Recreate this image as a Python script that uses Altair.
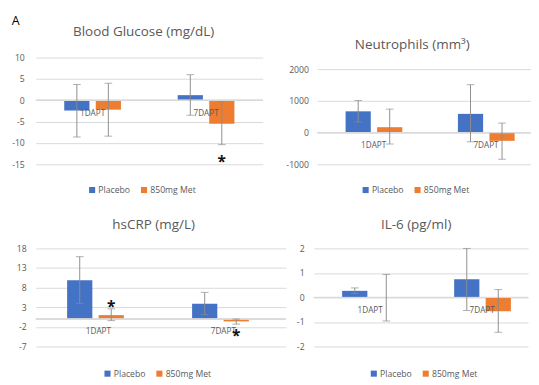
import altair as alt
import pandas as pd

FONT = "Open Sans"
GRAY_TXT = "#595959"
GRID = "#d9d9d9"
ERR = "#8c8c8c"

categories = ["1DAPT", "7DAPT"]
groups = ["Placebo", "850mg Met"]
group_colors = ["#4472C4", "#ED7D31"]

# Blood glucose (mg/dL)
bg_placebo = [-2.4, 1.2]
bg_placebo_lo = [-8.6, -3.5]
bg_placebo_hi = [3.7, 6.0]
bg_met = [-2.2, -5.5]
bg_met_lo = [-8.4, -10.4]
bg_met_hi = [4.0, -0.3]
bg_sig_cat = ["7DAPT"]
bg_sig_val = [-13.5]

# Neutrophils (mm3)
ne_placebo = [670, 590]
ne_placebo_lo = [330, -290]
ne_placebo_hi = [1010, 1510]
ne_met = [170, -260]
ne_met_lo = [-360, -840]
ne_met_hi = [740, 300]

# hsCRP (mg/L)
crp_placebo = [9.9, 3.9]
crp_placebo_lo = [4.0, 1.1]
crp_placebo_hi = [15.9, 6.8]
crp_met = [1.0, -0.6]
crp_met_lo = [-0.4, -1.3]
crp_met_hi = [2.6, 0.0]
crp_sig_cat = ["1DAPT", "7DAPT"]
crp_sig_val = [3.9, -3.5]

# IL-6 (pg/ml)
il_placebo = [0.27, 0.74]
il_placebo_lo = [0.16, -0.53]
il_placebo_hi = [0.39, 2.0]
il_met = [0.0, -0.56]
il_met_lo = [-0.96, -1.42]
il_met_hi = [0.94, 0.32]


def table(p, plo, phi, m, mlo, mhi):
    rows = []
    for i, c in enumerate(categories):
        rows.append({"cat": c, "grp": groups[0], "val": p[i], "lo": plo[i], "hi": phi[i]})
        rows.append({"cat": c, "grp": groups[1], "val": m[i], "lo": mlo[i], "hi": mhi[i]})
    return pd.DataFrame(rows)


def panel(title, df, domain, ticks, width, height, xpad, offpad, label_pad,
          legend_x, legend_y, title_dx, title_offset, sig_cat=None, sig_val=None):
    xscale = alt.Scale(**xpad)
    x = alt.X("cat:N", sort=categories, scale=xscale, axis=None)
    xo = alt.XOffset("grp:N", sort=groups, scale=alt.Scale(paddingInner=offpad, paddingOuter=0))
    yscale = alt.Scale(domain=domain, nice=False, zero=False)
    yaxis = alt.Axis(values=ticks, tickCount=20, grid=True, domain=False, ticks=False, title=None,
                     labelPadding=label_pad, gridColor=GRID, gridWidth=1,
                     labelOverlap=False, labelFlush=False, labelBound=False,
                     labelExpr="'' + datum.value",
                     labelColor=GRAY_TXT, labelFontSize=9, labelFont=FONT)
    base = alt.Chart(df)
    bars = base.mark_bar().encode(
        x=x, xOffset=xo,
        y=alt.Y("val:Q", scale=yscale, axis=yaxis),
        color=alt.Color("grp:N", sort=groups,
                        scale=alt.Scale(domain=groups, range=group_colors),
                        legend=alt.Legend(title=None, orient="none", legendX=legend_x, legendY=legend_y,
                                          direction="horizontal", symbolType="square", symbolSize=40,
                                          symbolStrokeWidth=0, labelFontSize=9, labelFont=FONT,
                                          labelColor=GRAY_TXT, columnPadding=10, labelOffset=2)))
    zero = base.mark_rule(color=GRID, strokeWidth=1).encode(y=alt.datum(0))
    err = base.mark_rule(color=ERR, strokeWidth=1).encode(
        x=x, xOffset=xo, y=alt.Y("lo:Q"), y2="hi:Q")
    cap_lo = base.mark_tick(color=ERR, size=8, thickness=1).encode(
        x=x, xOffset=xo, y=alt.Y("lo:Q"))
    cap_hi = base.mark_tick(color=ERR, size=8, thickness=1).encode(
        x=x, xOffset=xo, y=alt.Y("hi:Q"))
    labels = alt.Chart(pd.DataFrame({"cat": categories})).mark_text(
        dy=13, fontSize=8.5, font=FONT, color=GRAY_TXT).encode(
        x=x, y=alt.datum(0), text="cat:N")
    layers = [bars, zero, err, cap_lo, cap_hi, labels]
    if sig_cat:
        sdf = pd.DataFrame({"cat": sig_cat, "grp": [groups[1]] * len(sig_cat), "val": sig_val})
        stars = alt.Chart(sdf).mark_text(text="*", fontSize=16, fontWeight="bold", font=FONT,
                                         color="#111111", baseline="alphabetic", dy=9).encode(
            x=x, xOffset=xo, y=alt.Y("val:Q"))
        layers.append(stars)
    return alt.layer(*layers).properties(
        width=width, height=height,
        title=alt.TitleParams(title, font=FONT, fontSize=14, fontWeight="normal", color=GRAY_TXT,
                              anchor="middle", frame="group", offset=title_offset, dx=title_dx)
    )


sym = dict(paddingInner=0.5, paddingOuter=0.25)
p1 = panel("Blood Glucose (mg/dL)",
           table(bg_placebo, bg_placebo_lo, bg_placebo_hi, bg_met, bg_met_lo, bg_met_hi),
           [-15, 10], [-15, -10, -5, 0, 5, 10], 236, 111, sym, 0.2, 12,
           54, 133, -6, 15, bg_sig_cat, bg_sig_val)
# the neutrophil panel's plot area starts 12 px lower in the reference; extend its
# domain upward (no gridline there) so both plot bottoms line up
p2 = panel("Neutrophils (mm³)",
           table(ne_placebo, ne_placebo_lo, ne_placebo_hi, ne_met, ne_met_lo, ne_met_hi),
           [-1000, 2364], [-1000, 0, 1000, 2000], 222, 111,
           dict(paddingInner=0.5, paddingOuter=0.2, align=0.634), 0.2, 9,
           46, 133, -12, 6)
p3 = panel("hsCRP (mg/L)",
           table(crp_placebo, crp_placebo_lo, crp_placebo_hi, crp_met, crp_met_lo, crp_met_hi),
           [-7, 18], [-7, -2, 3, 8, 13, 18], 260, 102, sym, 0.24, 10,
           70, 125.5, -7.5, 13, crp_sig_cat, crp_sig_val)
p4 = panel("IL-6 (pg/ml)",
           table(il_placebo, il_placebo_lo, il_placebo_hi, il_met, il_met_lo, il_met_hi),
           [-2, 2], [-2, -1, 0, 1, 2], 223, 102,
           dict(paddingInner=0.5, paddingOuter=0.207, align=0.613), 0.2, 10,
           58, 125.5, -5, 13)

top = alt.hconcat(p1, p2, spacing=22.5).resolve_scale(color="independent", x="independent", y="independent")
bottom = alt.hconcat(p3, p4, spacing=9).resolve_scale(color="independent", x="independent", y="independent")

chart = alt.vconcat(top, bottom, spacing=24.5).resolve_scale(color="independent").properties(
    title=alt.TitleParams("A", anchor="start", fontSize=13, font=FONT, color="#000000",
                          fontWeight="normal", offset=-2),
    padding={"left": 3, "top": 0, "right": 0, "bottom": 0},
    background="white",
).configure_view(strokeWidth=0).configure_axis(labelOverlap=False)

chart.save("out.html", embed_options={"renderer": "svg", "actions": False})
